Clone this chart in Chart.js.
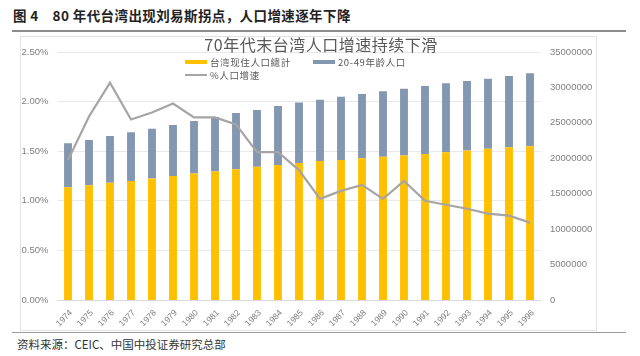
<!DOCTYPE html>
<html><head><meta charset="utf-8">
<script src="https://cdn.jsdelivr.net/npm/chart.js@4.4.1/dist/chart.umd.min.js"></script>
<style>
html,body{margin:0;padding:0;background:#fff;width:640px;height:356px;overflow:hidden;}
#wrap{position:relative;width:640px;height:356px;}
canvas{position:absolute;left:0;top:0;}
.hdr{position:absolute;left:13px;top:5px;font:bold 13.5px "Noto Sans CJK SC";letter-spacing:0.4px;color:#222;white-space:pre;}
.hline{position:absolute;left:12px;width:614px;top:30px;height:2px;background:#8c8c8c;}
.box{position:absolute;left:20px;top:36px;width:575px;height:293px;border:1px solid #e3e3e3;}
.fline{position:absolute;left:12px;width:614px;top:332px;height:1px;background:#9a9a9a;}
.src{position:absolute;left:17px;top:336px;font:11.5px "Noto Sans CJK SC";line-height:16px;color:#333;}
</style></head>
<body>
<div id="wrap">
  <div class="hdr">图 4    80 年代台湾出现刘易斯拐点，人口增速逐年下降</div>
  <div class="hline"></div>
  <div class="box"></div>
  <div class="fline"></div>
  <div class="src">资料来源：CEIC、中国中投证券研究总部</div>
  <canvas id="c" width="640" height="356"></canvas>
</div>
<script>
const chartTitle = '70年代末台湾人口增速持续下滑';
const years = ['1974','1975','1976','1977','1978','1979','1980','1981','1982','1983','1984','1985','1986','1987','1988','1989','1990','1991','1992','1993','1994','1995','1996'];
const totalPop = [15900000,16200000,16550000,16800000,17150000,17500000,17850000,18150000,18450000,18800000,19050000,19350000,19600000,19750000,20000000,20200000,20400000,20600000,20850000,21100000,21350000,21550000,21700000];
const workingAgePop = [6220000,6380000,6600000,6870000,7030000,7200000,7410000,7680000,7940000,8010000,8330000,8520000,8670000,8940000,9070000,9250000,9420000,9600000,9730000,9810000,9880000,10060000,10290000];
const growthPct = [1.41,1.85,2.19,1.82,1.89,1.98,1.84,1.84,1.77,1.49,1.49,1.31,1.02,1.10,1.16,1.02,1.20,1.00,0.96,0.92,0.87,0.85,0.78];
const pctTicks = [0,0.5,1.0,1.5,2.0,2.5];
const popTicks = [0,5000000,10000000,15000000,20000000,25000000,30000000,35000000];
const seriesNames = ['台湾现住人口總計','20-49年龄人口','%人口增速'];

const legendSpots = [{x:185,y:62},{x:313,y:62},{x:185,y:75}];
const overlay = {
  id:'overlay',
  afterDraw(chart){
    const ctx = chart.ctx;
    ctx.save();
    ctx.fillStyle = '#595959';
    ctx.font = '16px "Noto Sans CJK SC"';
    ctx.letterSpacing = '0.5px';
    ctx.textAlign = 'center';
    ctx.textBaseline = 'middle';
    ctx.fillText(chartTitle, 321, 45);
    ctx.letterSpacing = '0.6px';
    ctx.font = '9.5px "Noto Sans CJK SC"';
    ctx.textAlign = 'left';
    chart.data.datasets.forEach((ds,i)=>{
      const p = legendSpots[i];
      if (ds.type === 'line') {
        ctx.strokeStyle = ds.borderColor; ctx.lineWidth = 2;
        ctx.beginPath(); ctx.moveTo(p.x,p.y); ctx.lineTo(p.x+22,p.y); ctx.stroke();
      } else {
        ctx.fillStyle = ds.backgroundColor; ctx.fillRect(p.x,p.y-2,22,4);
      }
      ctx.fillStyle = '#595959';
      ctx.fillText(ds.label, p.x+25, p.y);
    });
    ctx.restore();
  }
};

const tickFont = {family:'"Liberation Sans", Arial, sans-serif', size:9.5};
new Chart(document.getElementById('c'), {
  data: {
    labels: years,
    datasets: [
      {type:'bar', label:seriesNames[0], data:totalPop, backgroundColor:'#FFC000', yAxisID:'yR', stack:'s', order:2, barPercentage:0.75, categoryPercentage:0.5},
      {type:'bar', label:seriesNames[1], data:workingAgePop, backgroundColor:'#8497B0', yAxisID:'yR', stack:'s', order:2, barPercentage:0.75, categoryPercentage:0.5},
      {type:'line', label:seriesNames[2], data:growthPct, borderColor:'#A5A5A5', borderWidth:2.25, pointRadius:0, yAxisID:'yL', order:0, tension:0, fill:false}
    ]
  },
  options: {
    responsive:false, animation:false, devicePixelRatio:1,
    layout:{padding:{top:52,left:0,right:0,bottom:0}},
    plugins:{legend:{display:false}, title:{display:false}, tooltip:{enabled:false}},
    scales:{
      x:{
        stacked:true,
        grid:{display:false, drawTicks:false},
        border:{display:true, color:'#D9D9D9'},
        ticks:{autoSkip:false, maxRotation:45, minRotation:45, color:'#7F7F7F', font:{family:'"Liberation Sans", Arial, sans-serif', size:8.5}, padding:8, labelOffset:3},
        afterFit(s){ s.height = 56; }
      },
      yL:{
        position:'left', min:0, max:2.5,
        grid:{color:'#E8E8E8', drawTicks:false},
        border:{display:false},
        ticks:{color:'#7F7F7F', font:tickFont, padding:9, callback:v=>v.toFixed(2)+'%'},
        afterBuildTicks(s){ s.ticks = pctTicks.map(v=>({value:v})); },
        afterFit(s){ s.width = 57.5; }
      },
      yR:{
        position:'right', min:0, max:35000000, stacked:true,
        grid:{display:false, drawTicks:false},
        border:{display:false},
        ticks:{color:'#7F7F7F', font:tickFont, padding:9.5, callback:v=>String(v)},
        afterBuildTicks(s){ s.ticks = popTicks.map(v=>({value:v})); },
        afterFit(s){ s.width = 99.5; }
      }
    }
  },
  plugins:[overlay]
});
</script>
</body></html>
